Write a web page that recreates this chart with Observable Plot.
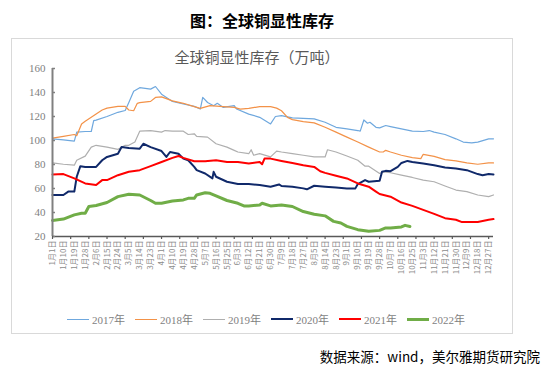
<!DOCTYPE html>
<html><head><meta charset="utf-8">
<script src="https://cdn.jsdelivr.net/npm/d3@7"></script>
<script src="https://cdn.jsdelivr.net/npm/@observablehq/plot@0.6"></script>
<style>
body{margin:0;background:#fff;}
#wrap{position:relative;width:549px;height:386px;overflow:hidden;font-family:"Liberation Serif","Noto Sans CJK SC",serif;}
#title{position:absolute;left:11px;width:502px;top:8px;text-align:center;font:bold 16px "Noto Sans CJK SC",sans-serif;color:#000;}
#box{position:absolute;left:11px;top:38px;width:502px;height:296px;border:1px solid #D9D9D9;box-sizing:border-box;}
#sub{position:absolute;left:6px;width:502px;top:46px;text-align:center;font:15px "Noto Sans CJK SC",sans-serif;color:#595959;}
#chart{position:absolute;left:0;top:40px;}
#legend{position:absolute;left:67px;top:311px;display:flex;}
.item{width:68px;display:flex;align-items:center;font:11px "Liberation Serif","Noto Sans CJK SC",serif;color:#7F7F7F;height:16px;}
.sw{width:22px;margin-right:3px;}
#source{position:absolute;right:9px;top:346px;font:13.5px "Noto Sans CJK SC",sans-serif;color:#000;}
</style></head>
<body>
<div id="wrap">
  <div id="title">图：全球铜显性库存</div>
  <div id="box"></div>
  <div id="sub">全球铜显性库存（万吨）</div>
  <div id="chart"></div>
  <div id="legend"></div>
  <div id="source">数据来源：wind，美尔雅期货研究院</div>
</div>
<script>
// [day of year, 万吨]
const y2017 = [[1,101.4],[10,100.6],[19,99.5],[21,107],[28,107.5],[33,107.5],[35,116.6],[37,117],[46,120],[55,123.5],[61,125],[64,131.7],[68,141],[73,144],[82,142.8],[86,145],[91,138.6],[100,132.6],[109,130.4],[118,128.4],[123,126.2],[125,135.9],[129,131.7],[134,129],[137,131],[142,127.6],[151,129],[153,126.2],[163,122],[172,119.3],[181,113.8],[185,120],[190,120.7],[199,118.8],[208,118.5],[217,118],[226,115.2],[235,111],[244,109.7],[253,108.3],[255,107.8],[258,117.1],[261,114.4],[263,115.2],[268,111],[271,110.5],[276,112.5],[280,111.6],[289,109.7],[298,107.8],[307,107.5],[312,108.3],[316,107],[325,105],[334,101.4],[340,98.7],[347,98.1],[352,98.7],[361,101.4],[365,101.4]];
const y2018 = [[1,102],[10,103.4],[19,105],[21,104],[25,113.8],[28,116],[37,122],[42,125.4],[46,127],[55,128.4],[61,128.4],[64,125.4],[68,124.8],[71,131],[73,131.5],[82,132.6],[86,135.9],[91,136.4],[100,133],[109,131],[118,128.2],[123,126.8],[131,129],[142,128.2],[151,127.6],[156,126.2],[163,126.8],[172,128.2],[181,128.2],[186,127],[190,124.8],[195,119.3],[199,117.4],[208,115.8],[217,114.7],[226,111],[235,107],[244,102.8],[253,98.7],[262,94.5],[271,90.4],[274,90.4],[276,91.8],[280,90.4],[289,87.7],[298,85.7],[305,84.9],[307,88.5],[316,86.8],[325,84.1],[334,83],[343,81.3],[352,80.2],[361,81.3],[365,81.3]];
const y2019 = [[1,81.3],[10,80.2],[19,79.4],[21,83.5],[28,87],[33,94.5],[37,96],[46,94.5],[55,92.6],[61,96],[64,96],[69,98.7],[73,107.8],[82,108.3],[91,107],[94,108.3],[100,107.8],[109,107.8],[113,105],[118,105.6],[120,103.4],[129,102.8],[136,97.3],[145,94.5],[151,91.8],[154,90.4],[163,89],[165,92.3],[167,87.7],[172,89],[181,86.3],[186,91.2],[190,90.4],[199,89],[208,87.7],[217,86.3],[226,86.3],[228,92.3],[235,90.4],[244,87.1],[253,83.5],[259,78.6],[262,78.6],[271,72.5],[274,73.9],[280,73.1],[289,71.1],[298,69.2],[307,67],[316,65.6],[325,62.1],[334,58.7],[343,57.4],[352,54.6],[361,53.2],[365,54.6]];
const y2020 = [[1,54.6],[10,54.6],[14,57.4],[19,57.4],[21,69.8],[24,78.6],[28,78],[37,78],[42,83.5],[46,86.3],[55,89],[58,94.5],[64,93.7],[73,93.2],[76,97.3],[82,94.5],[91,91.2],[95,86.3],[98,90.4],[105,89],[109,84.9],[113,83.5],[118,78],[120,75.3],[127,72.5],[133,68.4],[134,73.9],[136,69.8],[145,65.6],[154,63.7],[163,63.7],[172,62.9],[181,61.5],[188,63.4],[190,62.1],[199,61.5],[208,60.1],[211,59.3],[217,62.3],[226,61.5],[235,60.9],[244,60.1],[251,60.1],[253,63.7],[259,67],[262,65.6],[271,66.4],[273,73.9],[276,74.7],[280,74.4],[286,78],[289,81.3],[294,83],[298,82.1],[307,80.8],[316,79.4],[325,77.5],[334,76.7],[343,75.3],[352,72],[356,71.1],[361,72],[365,71.7]];
const y2021 = [[1,71.7],[10,72],[19,68.4],[28,64.2],[37,62.9],[42,67],[46,67],[55,71.1],[64,73.9],[73,75.3],[82,78.6],[91,82.1],[100,85.5],[105,87.1],[109,85.5],[118,82.7],[127,82.7],[136,83.5],[145,82.1],[154,82.1],[163,80.8],[172,82.1],[174,80.2],[176,84.9],[181,84.9],[190,83],[199,81.3],[208,79.4],[217,78],[222,74.4],[226,73],[235,70.6],[244,68.4],[253,64.2],[262,61.5],[268,57.4],[271,55.4],[280,53.2],[289,48.3],[298,45.5],[307,42.2],[316,38.9],[325,35.3],[334,34],[339,32],[343,32],[352,32],[361,34],[365,34.5]];
const y2022 = [[1,33.4],[10,34.5],[19,38],[25,39.4],[28,39.4],[31,45],[37,45.8],[46,48.3],[55,53.2],[64,55.2],[73,54.6],[82,50],[86,47.7],[91,47.7],[100,49.6],[109,50.5],[113,51.8],[118,51.8],[120,54.6],[127,56.5],[131,56],[136,53.8],[145,50],[154,47.7],[159,45.5],[163,45.5],[172,46.3],[174,47.7],[181,45.5],[190,46.3],[199,45],[208,40.8],[217,38.6],[226,37.2],[233,32.6],[239,31.2],[244,28.4],[253,25.7],[262,24.3],[271,25.1],[276,27.1],[280,27.1],[289,28],[292,29.3],[296,28.4]];

const seriesNames = ["2017年","2018年","2019年","2020年","2021年","2022年"];
const seriesColors = ["#6FA8DE","#F39248","#AFAFAF","#10296A","#FF0000","#70AD47"];
const seriesWidths = [1.2,1.2,1.2,2,2,3];
const seriesData = [y2017,y2018,y2019,y2020,y2021,y2022];

const yTicks = [20,40,60,80,100,120,140,160];
const xLabelDays = [1,10,19,28,37,46,55,64,73,82,91,100,109,118,127,136,145,154,163,172,181,190,199,208,217,226,235,244,253,262,271,280,289,298,307,316,325,334,343,352,361];
const xLabels = ["1月1日","1月10日","1月19日","1月28日","2月6日","2月15日","2月24日","3月5日","3月14日","3月23日","4月1日","4月10日","4月19日","4月28日","5月7日","5月16日","5月25日","6月3日","6月12日","6月21日","6月30日","7月9日","7月18日","7月27日","8月5日","8月14日","8月23日","9月1日","9月10日","9月19日","9月28日","10月7日","10月16日","10月25日","11月3日","11月12日","11月21日","11月30日","12月9日","12月18日","12月27日"];
const xTickDays = d3.range(1, 362, 15);

const labelMap = new Map(xLabelDays.map((d,i)=>[d, xLabels[i]]));

const lineMarks = seriesData.map((data,i)=>Plot.line(data,{x:d=>d[0],y:d=>d[1],stroke:seriesColors[i],strokeWidth:seriesWidths[i],strokeLinejoin:"round"}));

const chart = Plot.plot({
  width:549, height:260,
  marginLeft:52, marginRight:56, marginTop:28, marginBottom:64,
  x:{domain:[1,365]},
  y:{domain:[20,160]},
  style:{background:"transparent", fontFamily:'"Liberation Serif","Noto Sans CJK SC",serif'},
  marks:[
    ...lineMarks,
    Plot.ruleX([1],{stroke:"#808080",strokeWidth:2}),
    Plot.ruleY([20],{stroke:"#595959",strokeWidth:1.5}),
    Plot.axisY({ticks:yTicks, tickSize:0, tickPadding:7, fontSize:11, fill:"#7F7F7F", tickFormat:d=>d}),
    Plot.axisY({ticks:yTicks, tickSize:-3, text:null, stroke:"#808080", strokeWidth:1.5}),
    Plot.axisX({ticks:xTickDays, tickSize:3, text:null, stroke:"#595959", strokeWidth:1.2}),
    Plot.axisX({ticks:xLabelDays, tickSize:0, tickPadding:4, tickRotate:-90, fontSize:8, fill:"#8C8C8C", fontFamily:'"Noto Sans CJK SC",sans-serif', tickFormat:d=>labelMap.get(d)})
  ]
});
document.getElementById("chart").appendChild(chart);

const legend = document.getElementById("legend");
seriesNames.forEach((n,i)=>{
  const it = document.createElement("div"); it.className="item";
  const sw = document.createElement("div"); sw.className="sw";
  sw.style.height = Math.max(1, Math.round(seriesWidths[i])) + "px";
  sw.style.background = seriesColors[i];
  const tx = document.createElement("span"); tx.textContent = n;
  it.appendChild(sw); it.appendChild(tx); legend.appendChild(it);
});
</script>
</body></html>
